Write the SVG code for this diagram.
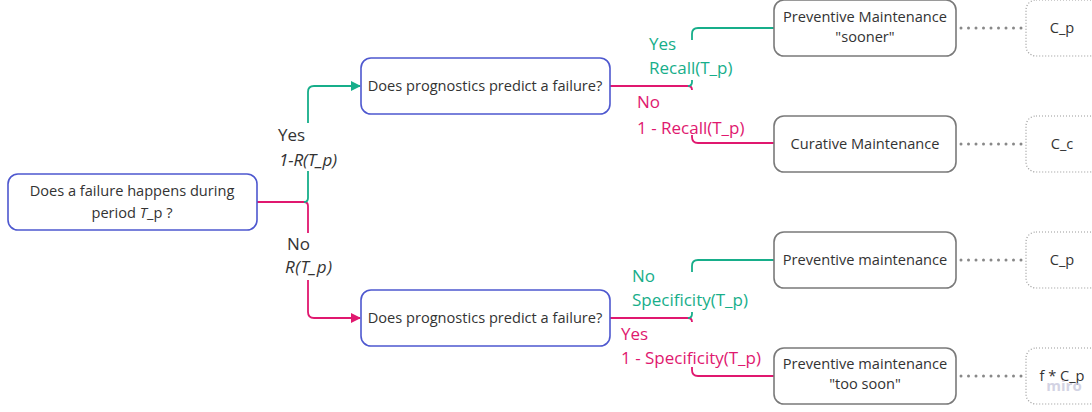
<svg xmlns="http://www.w3.org/2000/svg" width="1092" height="412" viewBox="0 0 1092 412">
<style>
text{font-family:"Open Sans","Noto Sans","Liberation Sans",sans-serif;}
.nt{font-size:14.6px;fill:#333;text-anchor:middle;}
.lb{font-size:17px;}
.g{fill:#17ae8a;}
.p{fill:#e0186f;}
.k{fill:#333;}
.dq{fill:#fff;stroke:#4e58cf;stroke-width:1.6;}
.ac{fill:#fff;stroke:#7a7a7a;stroke-width:1.6;}
.cs{fill:#fff;stroke:#999;stroke-width:1.2;stroke-dasharray:1 2;}
.gl{fill:none;stroke:#17ae8a;stroke-width:1.8;}
.pl{fill:none;stroke:#e0186f;stroke-width:1.8;}
.dl{fill:none;stroke:#888;stroke-width:3;stroke-dasharray:0 7.5;stroke-linecap:round;}
</style>
<defs>
<marker id="ag" viewBox="0 0 10 10" refX="9" refY="5" markerWidth="10" markerHeight="10" markerUnits="userSpaceOnUse" orient="auto"><path d="M0,0 L10,5 L0,10 z" fill="#17ae8a"/></marker>
<marker id="ap" viewBox="0 0 10 10" refX="9" refY="5" markerWidth="10" markerHeight="10" markerUnits="userSpaceOnUse" orient="auto"><path d="M0,0 L10,5 L0,10 z" fill="#e0186f"/></marker>
</defs>
<g id="connectors">
<path class="pl" d="M257,202 H304 q4,0 4,4 V233"/>
<path class="pl" d="M308,280 V312 q0,6 6,6 H360" marker-end="url(#ap)"/>
<path class="gl" d="M304,202 q4,0 4,-4 V171"/>
<path class="gl" d="M308,123 V92 q0,-6 6,-6 H360" marker-end="url(#ag)"/>
<path class="pl" d="M610,86 H688 q4,0 4,4"/>
<path class="gl" d="M688,86 q4,0 4,-4 V80"/>
<path class="gl" d="M692,40 V34 q0,-6 6,-6 H774"/>
<path class="pl" d="M692,135 V137 q0,6 6,6 H774"/>
<path class="pl" d="M610,318 H688 q4,0 4,4"/>
<path class="gl" d="M688,318 q4,0 4,-4 V312"/>
<path class="gl" d="M692,272 V266 q0,-6 6,-6 H774"/>
<path class="pl" d="M692,367 V370 q0,6 6,6 H774"/>
<path class="dl" d="M961,28 H1024"/>
<path class="dl" d="M961,144 H1024"/>
<path class="dl" d="M961,260 H1024"/>
<path class="dl" d="M961,376 H1024"/>
</g>
<g id="edge-labels">
<text class="lb k" x="278" y="141">Yes</text>
<text class="lb k" x="279" y="166" font-style="italic" textLength="58">1-R(T_p)</text>
<text class="lb k" x="287" y="250">No</text>
<text class="lb k" x="285" y="273" font-style="italic" textLength="47">R(T_p)</text>
<text class="lb g" x="649" y="50">Yes</text>
<text class="lb g" x="649" y="74">Recall(T_p)</text>
<text class="lb p" x="637" y="108">No</text>
<text class="lb p" x="637" y="134">1 - Recall(T_p)</text>
<text class="lb g" x="632" y="282">No</text>
<text class="lb g" x="632" y="306">Specificity(T_p)</text>
<text class="lb p" x="621" y="340">Yes</text>
<text class="lb p" x="621" y="364">1 - Specificity(T_p)</text>
</g>
<g id="n-root">
<rect class="dq" x="8" y="174" width="249" height="56" rx="10"/>
<text class="nt" x="132" y="196">Does a failure happens during</text>
<text class="nt" x="132" y="218">period <tspan font-style="italic">T</tspan>_p ?</text>
</g>
<g id="n-q1">
<rect class="dq" x="361" y="58" width="249" height="56" rx="10"/>
<text class="nt" x="485" y="91">Does prognostics predict a failure?</text>
</g>
<g id="n-q2">
<rect class="dq" x="361" y="290" width="249" height="56" rx="10"/>
<text class="nt" x="485" y="323">Does prognostics predict a failure?</text>
</g>
<g id="n-pm-sooner">
<rect class="ac" x="774" y="0" width="182" height="56" rx="10"/>
<text class="nt" x="865" y="22">Preventive Maintenance</text>
<text class="nt" x="865" y="42">"sooner"</text>
</g>
<g id="n-cm">
<rect class="ac" x="774" y="116" width="182" height="56" rx="10"/>
<text class="nt" x="865" y="149">Curative Maintenance</text>
</g>
<g id="n-pm">
<rect class="ac" x="774" y="232" width="182" height="56" rx="10"/>
<text class="nt" x="865" y="265">Preventive maintenance</text>
</g>
<g id="n-pm-toosoon">
<rect class="ac" x="774" y="348" width="182" height="56" rx="10"/>
<text class="nt" x="865" y="369">Preventive maintenance</text>
<text class="nt" x="865" y="389">"too soon"</text>
</g>
<g id="c-1">
<rect class="cs" x="1026" y="0" width="74" height="56" rx="10"/>
<text class="nt" x="1062" y="33">C_p</text>
</g>
<g id="c-2">
<rect class="cs" x="1026" y="116" width="74" height="56" rx="10"/>
<text class="nt" x="1062" y="149">C_c</text>
</g>
<g id="c-3">
<rect class="cs" x="1026" y="232" width="74" height="56" rx="10"/>
<text class="nt" x="1062" y="265">C_p</text>
</g>
<g id="c-4">
<rect class="cs" x="1026" y="348" width="74" height="56" rx="10"/>
<text class="nt" x="1062" y="381">f * C_p</text>
</g>
<text x="1064" y="391" text-anchor="middle" font-size="15" font-weight="bold" fill="#c9c9dd" opacity="0.8">miro</text>
</svg>
